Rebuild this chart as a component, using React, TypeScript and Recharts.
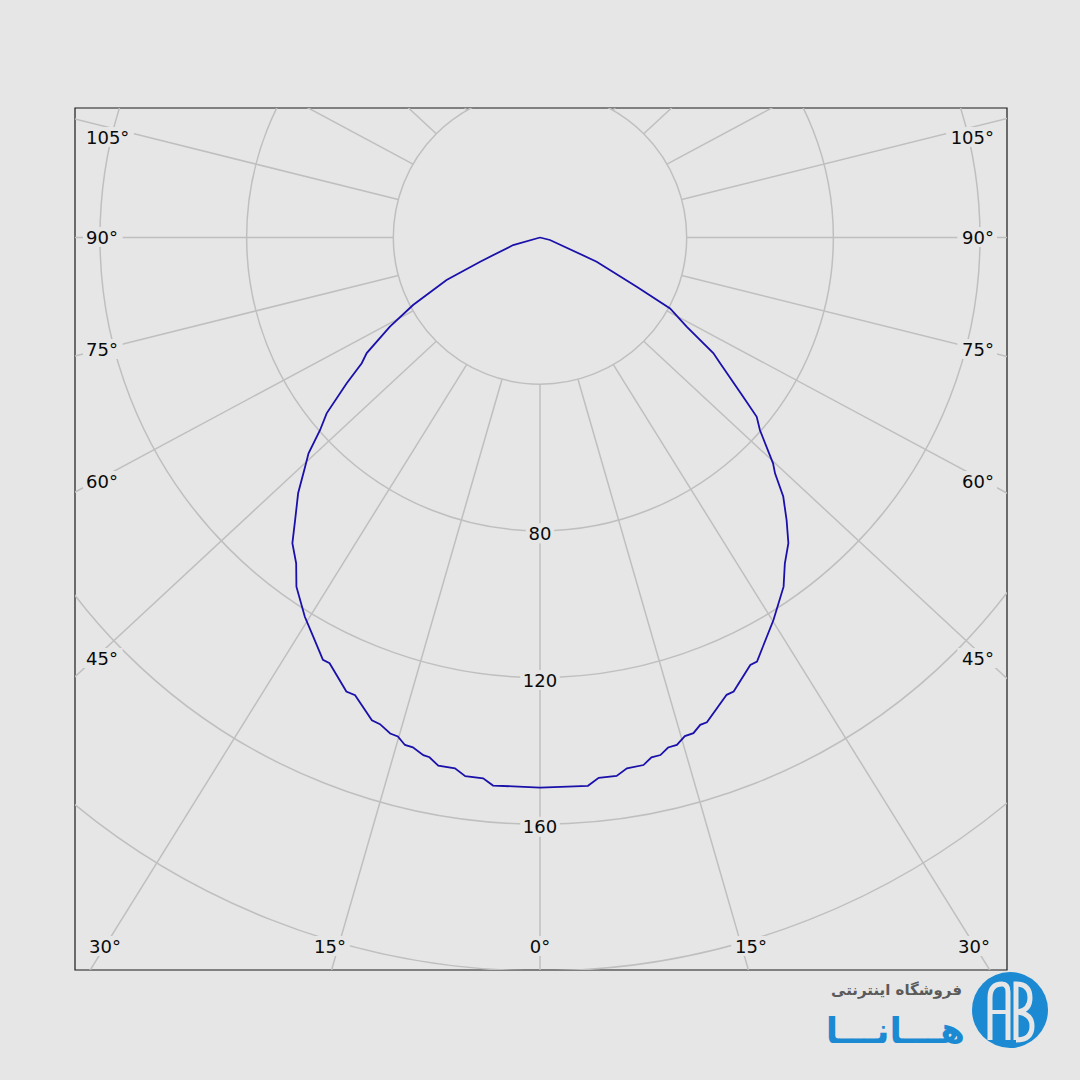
import React from 'react';
import { ComposedChart, XAxis, YAxis, Scatter, ReferenceDot, ReferenceLine, ReferenceArea } from 'recharts';

// C0 half-plane (drawn to the left), angle from nadir in degrees, intensity in cd
const leftAngles = [0, 4.9, 6.0, 7.9, 9.1, 10.9, 12.0, 12.7, 14.0, 14.9, 15.9, 16.8, 18.2, 19.2, 22.0, 23.1, 26.3, 27.2, 29.6, 31.8, 34.9, 36.8, 39.0, 40.9, 43.4, 45.7, 47.0, 48.8, 50.5, 53.0, 54.8, 56.3, 59.3, 62.0, 65.5, 68.0, 74.3, 90];
const leftCandela = [150.0, 150.0, 148.3, 148.3, 146.6, 146.7, 144.9, 144.7, 143.3, 143.2, 141.5, 141.3, 139.7, 139.4, 134.6, 134.6, 129.5, 129.5, 125.2, 121.7, 116.1, 111.0, 107.3, 102.0, 96.0, 89.5, 86.3, 79.7, 75.4, 66.0, 59.5, 56.8, 47.6, 39.2, 28.0, 17.6, 7.6, 0];

// C180 half-plane (drawn to the right)
const rightAngles = [0, 5.0, 6.2, 8.1, 9.3, 11.1, 12.1, 13.1, 14.1, 15.1, 16.2, 17.2, 18.2, 19.0, 22.2, 23.1, 26.2, 27.1, 31.4, 34.9, 36.9, 39.1, 41.1, 43.2, 44.9, 45.9, 48.8, 50.4, 51.9, 55.1, 56.3, 58.7, 61.4, 63.0, 66.9, 76.0, 90];
const rightCandela = [150.0, 150.1, 148.2, 148.3, 146.7, 146.6, 145.0, 144.9, 143.4, 143.3, 141.6, 141.5, 139.9, 139.8, 134.7, 134.6, 129.9, 129.9, 122.2, 116.1, 111.2, 107.4, 102.3, 96.9, 90.8, 88.5, 79.7, 76.7, 70.4, 59.9, 56.8, 46.8, 40.4, 29.6, 16.8, 2.8, 0];

const ringValues = [40, 80, 120, 160, 200];
const ringLabelValues = [80, 120, 160];
const spokeAngles = [0, 15, 30, 45, 60, 75, 90, 105, 120, 135, 150, 165, 180, 195, 210, 225, 240, 255, 270, 285, 300, 315, 330, 345];
const sideTickLabels = ['105°', '90°', '75°', '60°', '45°'];
const bottomTickLabels = ['30°', '15°', '0°', '15°', '30°'];

// layout (pixels)
const CX = 540;
const CY = 237.5;
const K = 3.667; // px per cd
const PLOT = { left: 75, top: 108, right: 1007, bottom: 970 };
const STRETCH = 1.065;
const sideLabelY = [137, 237, 349, 481, 658];
const bottomLabelX = [89, 330, 540, 751, 990];
const bottomAnchor = ['start', 'middle', 'middle', 'middle', 'end'];

const xDomain = [(PLOT.left - CX) / K, (PLOT.right - CX) / K];
const yDomain = [(CY - PLOT.bottom) / K, (CY - PLOT.top) / K];
const toData = (px: number, py: number) => ({ x: (px - CX) / K, y: (CY - py) / K });

const rad = (d: number) => (d * Math.PI) / 180;

const curve = [
  ...leftAngles.map((a, i) => ({ x: -leftCandela[i] * Math.sin(rad(a)), y: -leftCandela[i] * Math.cos(rad(a)) })).reverse(),
  ...rightAngles.map((a, i) => ({ x: rightCandela[i] * Math.sin(rad(a)), y: -rightCandela[i] * Math.cos(rad(a)) })),
];

const GRID = '#bfbfbf';
const BG = '#e6e6e6';
const FONT = "'DejaVu Sans', Verdana, sans-serif";

const LabelBox = ({ cx, cy, text, anchor }: { cx: number; cy: number; text: string; anchor: string }) => {
  const w = text.length * 11.2 + 6;
  let rx = cx - w / 2;
  if (anchor === 'start') rx = cx - 3;
  if (anchor === 'end') rx = cx - w + 3;
  return (
    <g>
      <rect x={rx} y={cy - 10} width={w} height={20} fill={BG} />
      <text x={cx} y={cy} textAnchor={anchor as any} dominantBaseline="central" fontSize={18} fontFamily={FONT} fill="#0a0a0a">
        {text}
      </text>
    </g>
  );
};

export default function App() {
  return (
    <div style={{ position: 'absolute', left: 0, top: 0, width: 1080, height: 1080, background: BG, fontFamily: FONT }}>
      <ComposedChart
        width={1080}
        height={1080}
        margin={{ top: PLOT.top, left: PLOT.left, right: 1080 - PLOT.right, bottom: 1080 - PLOT.bottom }}
      >
        <XAxis type="number" dataKey="x" domain={xDomain} hide allowDataOverflow />
        <YAxis type="number" dataKey="y" domain={yDomain} hide allowDataOverflow />
        {ringValues.map((r) => (
          <ReferenceDot key={'ring' + r} x={0} y={0} r={r * K} fill="none" stroke={GRID} strokeWidth={1.5} ifOverflow="hidden" />
        ))}
        {spokeAngles.map((a) => (
          <ReferenceLine
            key={'spoke' + a}
            segment={[
              { x: 40 * Math.sin(rad(a)), y: -40 * Math.cos(rad(a)) },
              { x: 260 * STRETCH * Math.sin(rad(a)), y: -260 * Math.cos(rad(a)) },
            ]}
            stroke={GRID}
            strokeWidth={1.5}
            ifOverflow="hidden"
          />
        ))}
        <ReferenceArea x1={xDomain[0]} x2={xDomain[1]} y1={yDomain[0]} y2={yDomain[1]} fill="none" stroke="#1a1a1a" strokeWidth={1.2} ifOverflow="visible" />
        {ringLabelValues.map((r) => (
          <ReferenceDot
            key={'rl' + r}
            x={0}
            y={-r + -2.5 / K}
            r={1}
            ifOverflow="visible"
            shape={(p: any) => <LabelBox cx={p.cx} cy={p.cy} text={String(r)} anchor="middle" />}
          />
        ))}
        {sideTickLabels.map((t, i) => {
          const l = toData(86, sideLabelY[i]);
          const rr = toData(994, sideLabelY[i]);
          return (
            <React.Fragment key={'side' + i}>
              <ReferenceDot x={l.x} y={l.y} r={1} ifOverflow="visible" shape={(p: any) => <LabelBox cx={p.cx} cy={p.cy} text={t} anchor="start" />} />
              <ReferenceDot x={rr.x} y={rr.y} r={1} ifOverflow="visible" shape={(p: any) => <LabelBox cx={p.cx} cy={p.cy} text={t} anchor="end" />} />
            </React.Fragment>
          );
        })}
        {bottomTickLabels.map((t, i) => {
          const b = toData(bottomLabelX[i], 946);
          return (
            <ReferenceDot key={'bot' + i} x={b.x} y={b.y} r={1} ifOverflow="visible" shape={(p: any) => <LabelBox cx={p.cx} cy={p.cy} text={t} anchor={bottomAnchor[i]} />} />
          );
        })}
        <Scatter
          data={curve}
          dataKey="y"
          line={{ stroke: '#1a10aa', strokeWidth: 1.8 }}
          shape={() => <g />}
          isAnimationActive={false}
        />
      </ComposedChart>
      <svg width={1080} height={1080} style={{ position: 'absolute', left: 0, top: 0, pointerEvents: 'none' }}>
        <text x={962} y={990} textAnchor="end" dominantBaseline="central" fontSize={15} fontWeight="bold" fontFamily={FONT} fill="#5a5a5a">
          فروشگاه اینترنتی
        </text>
        <text x={965} y={1030} textAnchor="end" dominantBaseline="central" fontSize={36} fontWeight="bold" fontFamily={FONT} fill="#1b8ad3">
          هـــانـــا
        </text>
        <circle cx={1010} cy={1010} r={38} fill="#1b8ad3" />
        <path d="M 990 1040 L 990 998 Q 990 984 1002 984 Q 1008 984 1008 992 L 1008 1040" fill="none" stroke="#e6e6e6" strokeWidth={5} />
        <path d="M 1016 1040 L 1016 984 Q 1030 984 1030 998 Q 1030 1010 1018 1012 Q 1032 1014 1032 1026 Q 1032 1040 1016 1040" fill="none" stroke="#e6e6e6" strokeWidth={5} />
        <path d="M 990 1012 L 1008 1012" stroke="#e6e6e6" strokeWidth={4} />
      </svg>
    </div>
  );
}
